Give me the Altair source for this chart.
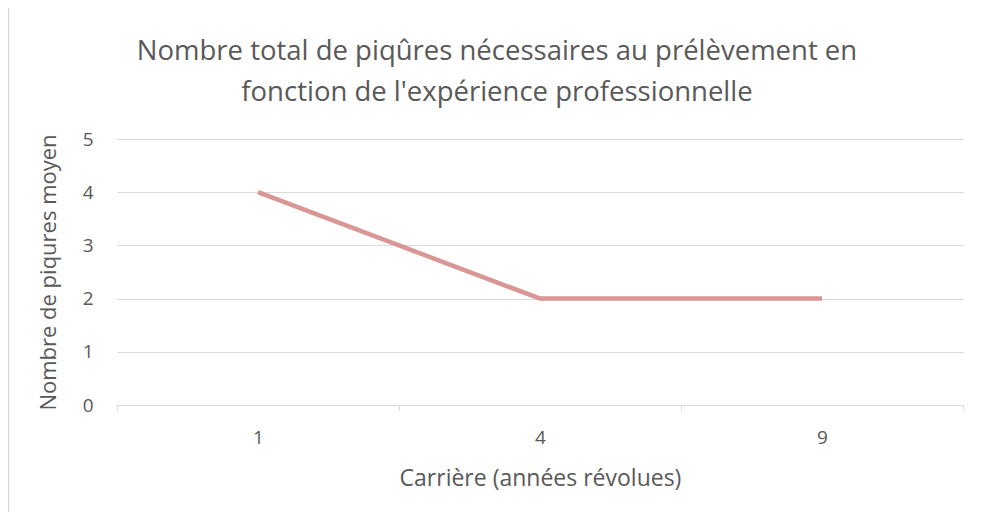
import altair as alt
import pandas as pd

# Data
careers = ["1", "4", "9"]
piqures = [4, 2, 2]
title_lines = ["Nombre total de piqûres nécessaires au prélèvement en",
               "fonction de l'expérience professionnelle"]

df = pd.DataFrame({"carriere": careers, "piqures": piqures})
tdf = pd.DataFrame({"t": title_lines, "i": [0, 1]})

TEXT = "#595959"
GRID = "#d9d9d9"
FONT = "Open Sans"

W, H = 846, 266

border = alt.Chart(pd.DataFrame({"k": [0]})).mark_rect(
    fill=None, stroke=GRID, strokeWidth=1.5
).encode(
    x=alt.value(-108.5), x2=alt.value(W + 60),
    y=alt.value(-132), y2=alt.value(H + 140)
)

title1 = alt.Chart(tdf.iloc[[0]]).mark_text(
    font=FONT, fontSize=27.5, color=TEXT, align="center", baseline="alphabetic"
).encode(text="t:N", x=alt.value(380), y=alt.value(-79))

title2 = alt.Chart(tdf.iloc[[1]]).mark_text(
    font=FONT, fontSize=27.5, color=TEXT, align="center", baseline="alphabetic"
).encode(text="t:N", x=alt.value(380), y=alt.value(-38))

line = alt.Chart(df).mark_line(color="#d99694", strokeWidth=4.5).encode(
    x=alt.X("carriere:O", sort=careers,
            scale=alt.Scale(paddingInner=0, paddingOuter=0, align=0.5),
            axis=alt.Axis(title="Carrière (années révolues)", labelAngle=0,
                          domainColor=GRID, tickColor=GRID, tickSize=5,
                          tickBand="extent", labelPadding=18, titlePadding=20,
                          labelFontSize=19, titleFontSize=23, labelColor=TEXT,
                          titleColor=TEXT, labelFont=FONT, titleFont=FONT,
                          titleFontWeight="normal", grid=False)),
    y=alt.Y("piqures:Q", scale=alt.Scale(domain=[0, 5]),
            axis=alt.Axis(title="Nombre de piqures moyen", values=[0, 1, 2, 3, 4, 5],
                          domain=False, ticks=False, gridColor=GRID, labelPadding=24,
                          labelFontSize=19, titleFontSize=22, labelColor=TEXT,
                          titleColor=TEXT, labelFont=FONT, titleFont=FONT,
                          titleFontWeight="normal", titlePadding=22))
)

chart = alt.layer(border, line, title1, title2).properties(
    width=W, height=H,
    autosize=alt.AutoSizeParams(type="none"),
    padding={"left": 109, "top": 131, "right": 13, "bottom": 107},
).configure_view(stroke=None)

chart.save("out.html", embed_options={"renderer": "svg", "actions": False})
